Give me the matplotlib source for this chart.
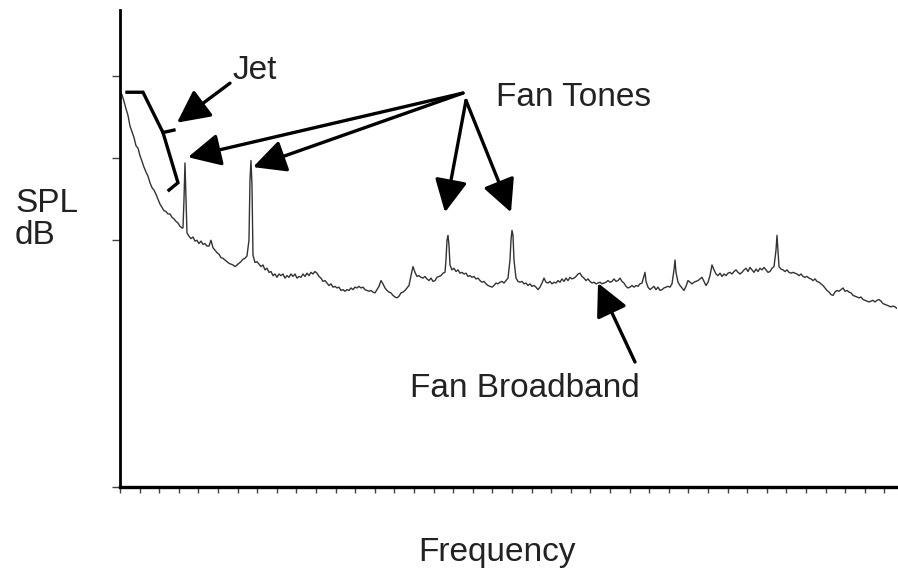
import numpy as np
import matplotlib
matplotlib.use("Agg")
from matplotlib import pyplot as plt

plt.rcParams['font.family'] = ['Liberation Sans', 'DejaVu Sans']

# spectrum bins (arbitrary frequency units) and SPL in dB
freq = [0, 2, 4, 6, 8, 10, 12, 14, 16, 18, 20, 22, 24, 26, 28, 30, 32, 34, 36, 38,
        40, 42, 44, 46, 48, 50, 52, 54, 56, 58, 60, 62, 63, 64, 65, 66, 67, 69, 71, 73,
        75, 77, 79, 81, 83, 85, 87, 89, 91, 93, 95, 97, 99, 101, 103, 105, 107, 109, 111, 113,
        115, 117, 119, 121, 123, 125, 127, 129, 130, 131, 132, 133, 135, 137, 139, 141, 143, 145, 147, 149,
        151, 153, 155, 157, 159, 161, 163, 165, 167, 169, 171, 173, 175, 177, 179, 181, 183, 185, 187, 189,
        191, 193, 195, 197, 199, 201, 203, 205, 207, 209, 211, 213, 215, 217, 219, 221, 223, 225, 227, 229,
        231, 233, 235, 237, 239, 241, 243, 245, 247, 249, 251, 253, 255, 257, 259, 261, 263, 265, 267, 269,
        271, 273, 275, 277, 279, 281, 283, 285, 287, 289, 291, 293, 295, 297, 299, 301, 303, 305, 307, 309,
        311, 313, 315, 317, 319, 321, 323, 325, 326, 327, 328, 329, 330, 332, 334, 336, 338, 340, 342, 344,
        346, 348, 350, 352, 354, 356, 358, 360, 362, 364, 366, 368, 370, 372, 374, 376, 378, 380, 382, 384,
        386, 388, 390, 391, 392, 393, 394, 396, 398, 400, 402, 404, 406, 408, 410, 412, 414, 416, 418, 420,
        422, 424, 426, 428, 430, 432, 434, 436, 438, 440, 442, 444, 446, 448, 450, 452, 454, 456, 458, 460,
        462, 464, 466, 468, 470, 472, 474, 476, 478, 480, 482, 484, 486, 488, 490, 492, 494, 496, 498, 500,
        502, 504, 506, 508, 510, 512, 514, 516, 518, 520, 522, 524, 525, 526, 528, 530, 532, 534, 536, 538,
        540, 542, 544, 546, 548, 550, 552, 554, 555, 556, 558, 560, 562, 564, 566, 568, 570, 572, 574, 576,
        578, 580, 582, 584, 586, 588, 590, 592, 594, 596, 598, 600, 602, 604, 606, 608, 610, 612, 614, 616,
        618, 620, 622, 624, 626, 628, 630, 632, 634, 636, 638, 640, 642, 644, 646, 648, 650, 652, 654, 656,
        657, 658, 659, 661, 663, 665, 667, 669, 671, 673, 675, 677, 679, 681, 683, 685, 687, 689, 691, 693,
        695, 697, 699, 701, 703, 705, 707, 709, 711, 713, 715, 717, 719, 721, 723, 725, 727, 729, 731, 733,
        735, 737, 739, 741, 743, 745, 747, 749, 751, 753, 755, 757, 759, 761, 763, 765, 767, 769, 771, 773,
        775, 777]
spl = [48.0, 47.7, 46.9, 46.0, 45.2, 43.9, 43.2, 42.5, 41.5, 41.2, 40.3, 39.6, 38.9, 38.3, 37.8, 37.0, 36.4, 36.1, 35.6, 35.0,
       34.4, 34.0, 33.6, 33.5, 33.2, 33.2, 32.8, 32.6, 32.3, 32.1, 31.7, 31.5, 31.5, 34.9, 39.4, 34.9, 30.9, 30.5, 30.2, 30.4,
       29.9, 30.0, 29.6, 29.9, 29.5, 29.6, 29.3, 29.3, 30.0, 29.1, 28.8, 28.5, 28.3, 27.9, 27.8, 27.6, 27.4, 27.2, 27.1, 27.0,
       26.8, 27.0, 27.2, 27.4, 27.7, 27.8, 28.1, 30.0, 37.3, 39.7, 36.7, 28.2, 27.3, 27.4, 27.1, 26.8, 27.0, 26.4, 26.6, 26.1,
       26.2, 25.7, 25.9, 25.5, 25.9, 25.7, 25.9, 25.4, 25.7, 25.5, 25.9, 25.6, 25.9, 25.4, 25.6, 25.5, 25.9, 25.6, 26.0, 25.7,
       26.1, 25.9, 26.2, 26.0, 25.6, 25.4, 25.0, 25.1, 24.8, 24.5, 24.7, 24.3, 24.4, 24.2, 24.3, 23.9, 24.0, 23.8, 24.0, 23.9,
       24.2, 24.0, 24.3, 24.2, 24.4, 24.2, 24.3, 24.0, 23.9, 23.8, 23.9, 23.7, 23.6, 24.0, 24.4, 25.1, 24.7, 24.2, 23.9, 23.7,
       23.6, 23.3, 23.1, 23.0, 23.2, 23.6, 23.7, 23.9, 24.2, 24.5, 25.7, 26.8, 26.1, 25.6, 25.7, 25.5, 25.4, 25.6, 25.3, 25.1,
       25.4, 25.0, 25.1, 25.5, 25.6, 25.7, 26.0, 26.1, 27.6, 30.0, 30.6, 29.4, 27.0, 26.4, 26.6, 26.2, 26.4, 26.0, 26.1, 25.9,
       26.0, 25.6, 25.7, 25.5, 25.6, 25.3, 25.4, 25.1, 24.9, 25.0, 24.7, 24.5, 24.4, 24.3, 24.5, 24.8, 24.7, 24.9, 25.0, 24.8,
       25.1, 25.4, 27.6, 30.0, 31.2, 30.6, 27.6, 25.4, 25.0, 24.9, 25.0, 24.7, 24.8, 24.5, 24.7, 24.4, 24.5, 24.3, 24.0, 24.3,
       24.8, 25.4, 24.9, 24.8, 25.0, 24.7, 24.9, 24.8, 25.1, 24.9, 25.3, 25.0, 25.4, 25.1, 25.5, 25.3, 25.4, 25.6, 25.9, 26.0,
       25.6, 25.4, 25.1, 25.3, 25.0, 24.8, 24.9, 24.7, 24.8, 24.9, 24.7, 24.8, 24.9, 25.1, 24.9, 25.0, 25.3, 25.0, 25.1, 25.4,
       25.0, 24.8, 24.4, 24.2, 24.3, 24.5, 24.3, 24.5, 24.4, 24.7, 24.8, 25.7, 26.1, 25.0, 24.3, 24.0, 24.2, 24.4, 24.0, 24.3,
       23.9, 24.0, 24.2, 24.3, 24.4, 24.3, 24.7, 26.4, 27.6, 26.1, 24.9, 24.5, 24.2, 23.9, 24.4, 25.1, 24.9, 24.7, 24.9, 25.0,
       25.1, 25.3, 25.5, 25.0, 24.5, 24.9, 25.7, 27.0, 26.4, 25.9, 25.7, 26.0, 25.6, 25.9, 25.7, 26.0, 26.1, 25.9, 26.2, 26.4,
       26.1, 25.9, 26.1, 26.4, 26.6, 26.2, 26.7, 26.4, 26.1, 26.5, 26.2, 26.6, 26.4, 26.7, 26.4, 26.1, 26.2, 26.6, 26.8, 28.8,
       30.6, 28.8, 26.8, 26.5, 26.4, 26.2, 26.4, 26.1, 26.0, 26.1, 26.0, 25.9, 25.7, 25.9, 25.6, 25.5, 25.6, 25.4, 25.3, 25.1,
       25.3, 25.0, 24.9, 24.7, 24.5, 24.2, 23.9, 23.7, 23.4, 23.3, 23.7, 23.9, 23.8, 24.0, 24.2, 23.8, 23.9, 23.7, 23.6, 23.3,
       23.2, 23.1, 23.0, 23.1, 22.8, 22.7, 22.6, 22.5, 22.6, 22.7, 22.5, 22.7, 22.8, 22.6, 22.3, 22.2, 22.1, 22.0, 21.9, 22.0,
       21.9, 21.7]

spl_ticks = [0, 30, 40, 50]

fig = plt.figure(figsize=(8.98, 5.71), dpi=100)
ax = fig.add_axes([0.1336, 0.1471, 0.8653, 0.8354])

ax.plot(freq, spl, color='#333333', lw=1.0)

ax.set_xlim(0, 777)
ax.set_ylim(0, 58)
ax.set_xticks(np.arange(0, 778, 19.6))
ax.set_yticks(spl_ticks)
ax.set_xticklabels([])
ax.set_yticklabels([])
ax.tick_params(axis='x', direction='out', length=4.5, width=1, color='#444444')
ax.tick_params(axis='y', direction='out', length=6, width=1, color='#444444')
for s in ['top', 'right']:
    ax.spines[s].set_visible(False)
ax.spines['left'].set_linewidth(2.0)
ax.spines['bottom'].set_linewidth(2.4)

txt = dict(fontsize=24, color='#222222')
arrow = dict(arrowstyle='-|>,head_length=1.0,head_width=0.5', lw=2.4, color='black',
             mutation_scale=20, shrinkA=0, shrinkB=0)

# jet brace
ax.plot([7, 23, 43, 54], [48.0, 48.0, 43.1, 43.4], color='black', lw=2.4, solid_joinstyle='miter')
ax.plot([43, 58, 49], [43.1, 37.0, 36.1], color='black', lw=2.4, solid_joinstyle='miter')

ax.text(113, 50.7, 'Jet', ha='left', va='center', **txt)
ax.annotate('', xy=(57, 44.3), xytext=(110, 49.1), arrowprops=arrow)

ax.text(376, 47.4, 'Fan Tones', ha='left', va='center', **txt)
ax.annotate('', xy=(68, 40.1), xytext=(343, 47.9), arrowprops=arrow)
ax.annotate('', xy=(133, 38.9), xytext=(343, 47.9), arrowprops=arrow)
ax.annotate('', xy=(325, 33.4), xytext=(346, 47.0), arrowprops=arrow)
ax.annotate('', xy=(391, 33.4), xytext=(346, 47.0), arrowprops=arrow)

ax.text(290, 12.0, 'Fan Broadband', ha='left', va='center', **txt)
ax.annotate('', xy=(478, 24.8), xytext=(515, 15.2), arrowprops=arrow)

fig.text(0.0167, 0.615, 'SPL\ndB', ha='left', va='center', linespacing=1.05, **txt)
fig.text(0.553, 0.032, 'Frequency', ha='center', va='center', **txt)

fig.savefig('out.png', dpi=100)
